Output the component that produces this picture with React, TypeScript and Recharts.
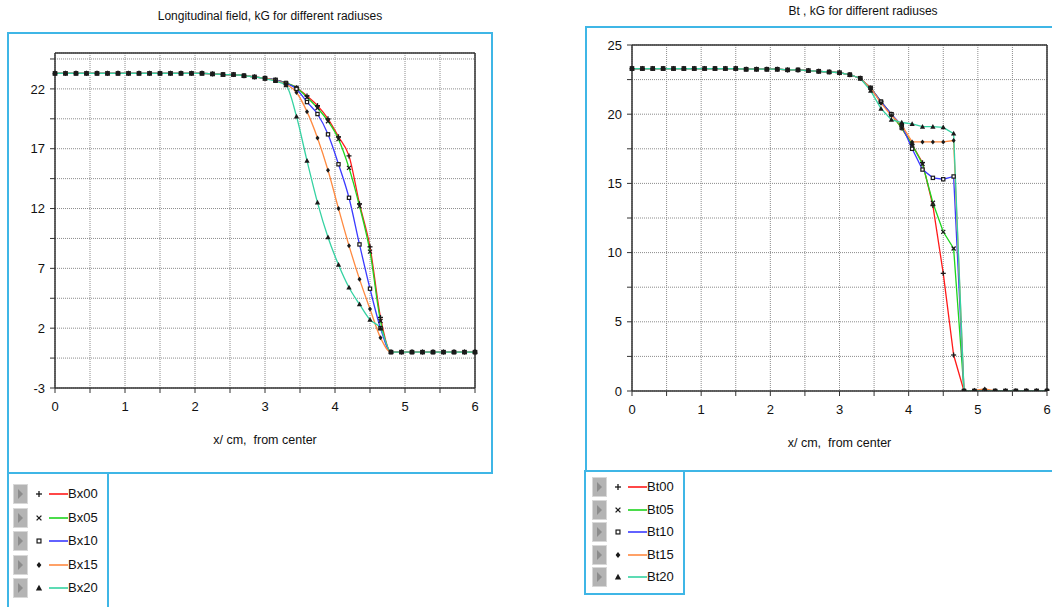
import React from 'react';
import { LineChart, Line, XAxis, YAxis, CartesianGrid, Label, ReferenceLine } from 'recharts';

const X_VALUES = [0, 0.15, 0.3, 0.45, 0.6, 0.75, 0.9, 1.05, 1.2, 1.35, 1.5, 1.65, 1.8, 1.95, 2.1, 2.25, 2.4, 2.55, 2.7, 2.85, 3.0, 3.15, 3.3, 3.45, 3.6, 3.75, 3.9, 4.05, 4.2, 4.35, 4.5, 4.65, 4.8, 4.95, 5.1, 5.25, 5.4, 5.55, 5.7, 5.85, 6.0];

// Longitudinal field Bx (kG)
const BX00 = [23.3, 23.3, 23.3, 23.3, 23.3, 23.3, 23.3, 23.3, 23.3, 23.3, 23.3, 23.3, 23.3, 23.3, 23.3, 23.25, 23.2, 23.2, 23.1, 23.0, 22.9, 22.75, 22.5, 22.1, 21.4, 20.6, 19.5, 18.0, 16.4, 12.4, 8.8, 2.9, 0, 0, 0, 0, 0, 0, 0, 0, 0];
const BX05 = [23.3, 23.3, 23.3, 23.3, 23.3, 23.3, 23.3, 23.3, 23.3, 23.3, 23.3, 23.3, 23.3, 23.3, 23.3, 23.25, 23.2, 23.2, 23.1, 23.0, 22.9, 22.75, 22.5, 22.1, 21.3, 20.4, 19.3, 17.8, 15.4, 12.2, 8.4, 2.6, 0, 0, 0, 0, 0, 0, 0, 0, 0];
const BX10 = [23.3, 23.3, 23.3, 23.3, 23.3, 23.3, 23.3, 23.3, 23.3, 23.3, 23.3, 23.3, 23.3, 23.3, 23.3, 23.25, 23.2, 23.2, 23.1, 23.0, 22.9, 22.75, 22.45, 22.0, 20.9, 19.9, 18.2, 15.7, 12.9, 9.0, 5.3, 2.0, 0, 0, 0, 0, 0, 0, 0, 0, 0];
const BX15 = [23.3, 23.3, 23.3, 23.3, 23.3, 23.3, 23.3, 23.3, 23.3, 23.3, 23.3, 23.3, 23.3, 23.3, 23.3, 23.25, 23.2, 23.2, 23.1, 23.0, 22.9, 22.7, 22.4, 21.7, 20.1, 17.9, 15.2, 12.0, 8.9, 6.1, 3.6, 1.2, 0, 0, 0, 0, 0, 0, 0, 0, 0];
const BX20 = [23.3, 23.3, 23.3, 23.3, 23.3, 23.3, 23.3, 23.3, 23.3, 23.3, 23.3, 23.3, 23.3, 23.3, 23.3, 23.25, 23.2, 23.2, 23.1, 23.0, 22.85, 22.65, 22.3, 19.7, 16.0, 12.5, 9.6, 7.3, 5.4, 4.0, 2.7, 2.0, 0, 0, 0, 0, 0, 0, 0, 0, 0];

// Bt (kG)
const BT00 = [23.3, 23.3, 23.3, 23.3, 23.3, 23.3, 23.3, 23.3, 23.3, 23.3, 23.3, 23.25, 23.25, 23.25, 23.25, 23.2, 23.2, 23.15, 23.1, 23.05, 23.0, 22.85, 22.6, 21.9, 20.9, 20.0, 19.0, 17.8, 16.5, 13.4, 8.5, 2.6, 0, 0, 0, 0, 0, 0, 0, 0, 0];
const BT05 = [23.3, 23.3, 23.3, 23.3, 23.3, 23.3, 23.3, 23.3, 23.3, 23.3, 23.3, 23.25, 23.25, 23.25, 23.25, 23.2, 23.2, 23.15, 23.1, 23.05, 23.0, 22.85, 22.6, 21.9, 20.9, 20.0, 19.0, 17.8, 16.4, 13.6, 11.5, 10.3, 0, 0, 0, 0, 0, 0, 0, 0, 0];
const BT10 = [23.3, 23.3, 23.3, 23.3, 23.3, 23.3, 23.3, 23.3, 23.3, 23.3, 23.3, 23.25, 23.25, 23.25, 23.25, 23.2, 23.2, 23.15, 23.1, 23.05, 23.0, 22.85, 22.6, 21.9, 20.9, 20.0, 19.2, 17.5, 16.0, 15.4, 15.3, 15.5, 0, 0, 0, 0, 0, 0, 0, 0, 0];
const BT15 = [23.3, 23.3, 23.3, 23.3, 23.3, 23.3, 23.3, 23.3, 23.3, 23.3, 23.3, 23.25, 23.25, 23.25, 23.25, 23.2, 23.2, 23.15, 23.1, 23.05, 23.0, 22.85, 22.6, 21.9, 20.8, 19.9, 19.2, 18.0, 18.0, 18.0, 18.0, 18.1, 0, 0.05, 0.15, 0, 0, 0, 0, 0, 0];
const BT20 = [23.3, 23.3, 23.3, 23.3, 23.3, 23.3, 23.3, 23.3, 23.3, 23.3, 23.3, 23.25, 23.25, 23.25, 23.25, 23.2, 23.2, 23.15, 23.1, 23.05, 23.0, 22.85, 22.6, 21.7, 20.4, 19.6, 19.4, 19.3, 19.1, 19.1, 19.05, 18.6, 0, 0, 0, 0, 0, 0, 0, 0, 0];

const X_TICKS = [0, 0.5, 1, 1.5, 2, 2.5, 3, 3.5, 4, 4.5, 5, 5.5, 6];
const LEFT_Y_TICKS = [-3, -0.5, 2, 4.5, 7, 9.5, 12, 14.5, 17, 19.5, 22, 24.5];
const LEFT_Y_LABELS = [-3, 2, 7, 12, 17, 22];
const RIGHT_Y_TICKS = [0, 2.5, 5, 7.5, 10, 12.5, 15, 17.5, 20, 22.5, 25];
const RIGHT_Y_LABELS = [0, 5, 10, 15, 20, 25];

const LEFT_TITLE = 'Longitudinal field, kG for different radiuses';
const RIGHT_TITLE = 'Bt , kG for different radiuses';
const X_LABEL = 'x/ cm,\u00a0 from center';

const LEFT_NAMES = ['Bx00', 'Bx05', 'Bx10', 'Bx15', 'Bx20'];
const RIGHT_NAMES = ['Bt00', 'Bt05', 'Bt10', 'Bt15', 'Bt20'];
const COLORS = ['#ff1a1a', '#1ed41e', '#3a3aff', '#ff8a40', '#35d2a2'];
const SHAPES = ['plus', 'cross', 'square', 'diamond', 'triangle'];

const leftData = X_VALUES.map((x, i) => ({ x, Bx00: BX00[i], Bx05: BX05[i], Bx10: BX10[i], Bx15: BX15[i], Bx20: BX20[i] }));
const rightData = X_VALUES.map((x, i) => ({ x, Bt00: BT00[i], Bt05: BT05[i], Bt10: BT10[i], Bt15: BT15[i], Bt20: BT20[i] }));

const FONT = '"Liberation Sans", Arial, sans-serif';
const BOX = '#3fb6e6';
const MARK = '#1a1a1a';

function Marker({ shape, cx, cy, s = 2.5 }: { shape: string; cx: number; cy: number; s?: number }) {
  if (cx == null || cy == null || isNaN(cx) || isNaN(cy)) return <g />;
  switch (shape) {
    case 'plus':
      return (
        <g stroke={MARK} strokeWidth={1.3}>
          <line x1={cx - s} y1={cy} x2={cx + s} y2={cy} />
          <line x1={cx} y1={cy - s} x2={cx} y2={cy + s} />
        </g>
      );
    case 'cross':
      return (
        <g stroke={MARK} strokeWidth={1.3}>
          <line x1={cx - s * 0.8} y1={cy - s * 0.8} x2={cx + s * 0.8} y2={cy + s * 0.8} />
          <line x1={cx - s * 0.8} y1={cy + s * 0.8} x2={cx + s * 0.8} y2={cy - s * 0.8} />
        </g>
      );
    case 'square':
      return <rect x={cx - s * 0.65} y={cy - s * 0.65} width={s * 1.3} height={s * 1.3} fill="#fff" stroke={MARK} strokeWidth={1.2} />;
    case 'diamond':
      return <polygon points={`${cx},${cy - s} ${cx + s * 0.8},${cy} ${cx},${cy + s} ${cx - s * 0.8},${cy}`} fill={MARK} />;
    default:
      return <polygon points={`${cx},${cy - s * 1.1} ${cx + s * 1.05},${cy + s * 0.8} ${cx - s * 1.05},${cy + s * 0.8}`} fill={MARK} />;
  }
}

const makeDot = (shape: string) => (props: any) => (
  <Marker key={`${shape}-${props.index}`} shape={shape} cx={props.cx} cy={props.cy} />
);

function LegendButton() {
  return (
    <svg width={15} height={20} style={{ display: 'block' }}>
      <rect x={0} y={0} width={15} height={20} fill="#b4b4b4" />
      <rect x={0.5} y={0.5} width={14} height={19} fill="none" stroke="#d8d8d8" />
      <polygon points="5,5 10,10 5,15" fill="#8c8c8c" />
    </svg>
  );
}

function LegendBox({ names, left, top, width, height, rowLeft, rowTop, rowStep }: { names: string[]; left: number; top: number; width: number; height: number; rowLeft: number; rowTop: number; rowStep: number }) {
  return (
    <div style={{ position: 'absolute', left, top, width, height, border: `2px solid ${BOX}`, boxSizing: 'border-box', background: '#fff' }}>
      {names.map((n, i) => (
        <div key={n} style={{ position: 'absolute', left: rowLeft, top: Math.round(rowTop + i * rowStep), height: 20, display: 'flex', alignItems: 'center' }}>
          <LegendButton />
          <svg width={15} height={20} style={{ display: 'block', marginLeft: 6 }}>
            <Marker shape={SHAPES[i]} cx={5} cy={10} s={3} />
          </svg>
          <svg width={19} height={20} style={{ display: 'block' }}>
            <line x1={0} y1={10} x2={19} y2={10} stroke={COLORS[i]} strokeWidth={1.6} />
          </svg>
          <span style={{ fontFamily: FONT, fontSize: 13, color: '#111', lineHeight: '20px' }}>{n}</span>
        </div>
      ))}
    </div>
  );
}

function Chart({ data, names, width, height, margin, yDomain, yTicks, yLabels, curve }: any) {
  return (
    <LineChart width={width} height={height} data={data} margin={margin}>
      <CartesianGrid xAxisId="main" yAxisId="main" stroke="#8c8c8c" strokeDasharray="1 1" />
      <XAxis
        xAxisId="main"
        dataKey="x"
        type="number"
        domain={[0, 6]}
        ticks={X_TICKS}
        interval={0}
        tickFormatter={(v: number) => (Number.isInteger(v) ? String(v) : '')}
        tick={{ fill: '#111', fontSize: 13, fontFamily: FONT }}
        tickSize={5}
        tickMargin={9}
        axisLine={{ stroke: '#333', strokeWidth: 1.5 }}
        tickLine={{ stroke: '#333' }}
        height={60}
      >
        <Label value={X_LABEL} position="insideBottom" offset={4} style={{ fill: '#111', fontSize: 12.5, fontFamily: FONT }} />
      </XAxis>
      <YAxis
        yAxisId="main"
        type="number"
        domain={yDomain}
        ticks={yTicks}
        interval={0}
        allowDataOverflow
        tickFormatter={(v: number) => (yLabels.includes(v) ? String(v) : '')}
        tick={{ fill: '#111', fontSize: 13, fontFamily: FONT }}
        tickSize={5}
        tickMargin={5}
        axisLine={{ stroke: '#333', strokeWidth: 1.5 }}
        tickLine={{ stroke: '#333' }}
        width={40}
      />
      <ReferenceLine xAxisId="main" yAxisId="main" y={yDomain[1]} stroke="#333" strokeWidth={1.5} ifOverflow="extendDomain" />
      <ReferenceLine xAxisId="main" yAxisId="main" x={6} stroke="#333" strokeWidth={1.5} ifOverflow="extendDomain" />
      {names.map((n: string, i: number) => (
        <Line
          key={n}
          xAxisId="main"
          yAxisId="main"
          dataKey={n}
          type={curve}
          stroke={COLORS[i]}
          strokeWidth={1.3}
          dot={makeDot(SHAPES[i])}
          activeDot={false}
          isAnimationActive={false}
        />
      ))}
    </LineChart>
  );
}

export default function App() {
  return (
    <div style={{ position: 'absolute', left: 0, top: 0, width: 1052, height: 607, overflow: 'hidden', background: '#fff' }}>
      {/* left panel */}
      <div style={{ position: 'absolute', left: 7, top: 32, width: 486, height: 442, border: `2px solid ${BOX}`, boxSizing: 'border-box' }} />
      <div style={{ position: 'absolute', left: 0, width: 540, top: 9, textAlign: 'center', fontFamily: FONT, fontSize: 12, color: '#111' }}>{LEFT_TITLE}</div>
      <div style={{ position: 'absolute', left: 0, top: 0 }}>
        <Chart data={leftData} names={LEFT_NAMES} width={500} height={470} margin={{ top: 53, right: 25, bottom: 22, left: 15 }} yDomain={[-3, 25]} yTicks={LEFT_Y_TICKS} yLabels={LEFT_Y_LABELS} curve="monotone" />
      </div>
      <LegendBox names={LEFT_NAMES} left={7} top={472} width={102} height={140} rowLeft={4} rowTop={10} rowStep={23.5} />

      {/* right panel */}
      <div style={{ position: 'absolute', left: 585, top: 26, width: 500, height: 446, border: `2px solid ${BOX}`, boxSizing: 'border-box' }} />
      <div style={{ position: 'absolute', left: 688, width: 350, top: 4, textAlign: 'center', fontFamily: FONT, fontSize: 12, color: '#111' }}>{RIGHT_TITLE}</div>
      <div style={{ position: 'absolute', left: 580, top: 0 }}>
        <Chart data={rightData} names={RIGHT_NAMES} width={472} height={470} margin={{ top: 45, right: 5, bottom: 19, left: 12 }} yDomain={[0, 25]} yTicks={RIGHT_Y_TICKS} yLabels={RIGHT_Y_LABELS} curve="linear" />
      </div>
      <LegendBox names={RIGHT_NAMES} left={584} top={470} width={101} height={125} rowLeft={6} rowTop={5} rowStep={22.5} />
    </div>
  );
}
